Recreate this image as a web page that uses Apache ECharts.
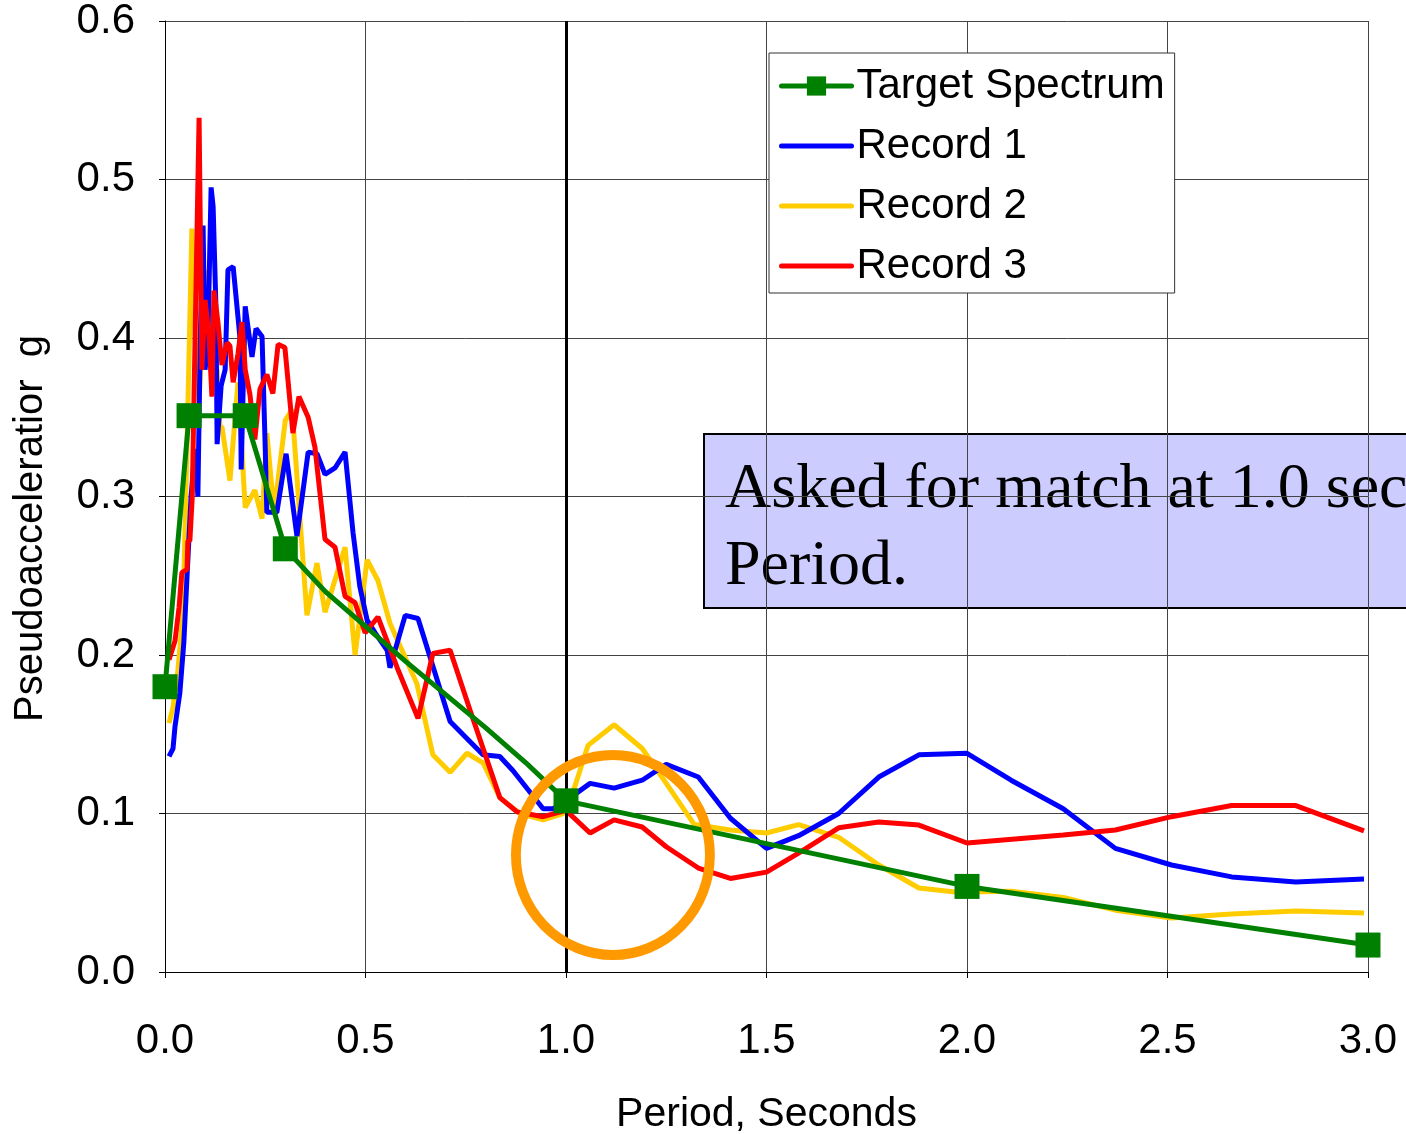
<!DOCTYPE html>
<html>
<head>
<meta charset="utf-8">
<script src="https://cdn.jsdelivr.net/npm/echarts@6/dist/echarts.min.js"></script>
<style>
  html, body { margin:0; padding:0; background:#fff; }
  #main { width:1406px; height:1134px; }
</style>
</head>
<body>
<div id="main"></div>
<script>
// period (s), pseudoacceleration (g)
var targetPeriod = [0, 0.06, 0.2, 0.3, 0.4, 0.5, 0.6, 0.7, 0.8, 0.9, 1.0, 2.0, 3.0];
var targetValue  = [0.18, 0.351, 0.351, 0.267, 0.24, 0.218, 0.196, 0.175, 0.154, 0.132, 0.108, 0.054, 0.017];
var targetMarked = [1, 1, 1, 1, 0, 0, 0, 0, 0, 0, 1, 1, 1];

var record1 = [
  [0.01,0.136],[0.02,0.141],[0.025,0.155],[0.037,0.176],[0.047,0.208],[0.055,0.25],[0.065,0.30],
  [0.075,0.33],[0.082,0.30],[0.088,0.40],[0.095,0.471],[0.1,0.38],[0.107,0.40],[0.115,0.495],
  [0.12,0.483],[0.127,0.42],[0.13,0.333],[0.14,0.37],[0.15,0.38],[0.157,0.443],[0.17,0.445],
  [0.187,0.40],[0.19,0.317],[0.2,0.42],[0.217,0.388],[0.227,0.406],[0.242,0.401],[0.25,0.33],
  [0.254,0.29],[0.279,0.29],[0.302,0.327],[0.329,0.275],[0.357,0.328],[0.379,0.327],[0.399,0.314],
  [0.424,0.318],[0.449,0.328],[0.469,0.277],[0.486,0.243],[0.504,0.222],[0.524,0.214],[0.554,0.203],
  [0.561,0.192],[0.599,0.225],[0.631,0.223],[0.711,0.158],[0.793,0.137],[0.835,0.136],[0.868,0.127],
  [0.943,0.103],[0.968,0.103],[1.0,0.108],[1.06,0.119],[1.12,0.116],[1.19,0.121],[1.25,0.131],
  [1.33,0.123],[1.41,0.097],[1.5,0.078],[1.58,0.086],[1.68,0.100],[1.78,0.123],[1.88,0.137],
  [2.0,0.138],[2.11,0.121],[2.24,0.103],[2.37,0.078],[2.51,0.0675],[2.66,0.060],[2.82,0.0568],[2.99,0.0587]
];

var record2 = [
  [0.01,0.157],[0.02,0.167],[0.032,0.19],[0.045,0.226],[0.055,0.334],[0.067,0.469],[0.075,0.40],
  [0.085,0.36],[0.1,0.443],[0.11,0.40],[0.12,0.37],[0.13,0.38],[0.137,0.344],[0.142,0.344],
  [0.162,0.31],[0.182,0.372],[0.2,0.293],[0.224,0.304],[0.242,0.286],[0.254,0.34],[0.272,0.29],
  [0.3,0.348],[0.317,0.355],[0.354,0.225],[0.379,0.258],[0.399,0.227],[0.449,0.268],[0.474,0.2],
  [0.504,0.26],[0.531,0.247],[0.561,0.22],[0.628,0.182],[0.668,0.137],[0.711,0.126],[0.753,0.138],
  [0.793,0.132],[0.835,0.110],[0.885,0.100],[0.943,0.096],[0.993,0.100],[1.022,0.117],[1.055,0.143],
  [1.12,0.156],[1.19,0.141],[1.25,0.119],[1.32,0.093],[1.41,0.0896],[1.5,0.0877],[1.58,0.093],
  [1.68,0.085],[1.78,0.0675],[1.88,0.053],[1.97,0.0505],[2.0,0.0505],[2.11,0.051],[2.24,0.047],
  [2.37,0.039],[2.51,0.034],[2.66,0.0366],[2.82,0.0385],[2.99,0.0372]
];

var record3 = [
  [0.01,0.197],[0.025,0.209],[0.035,0.23],[0.042,0.252],[0.055,0.254],[0.057,0.272],[0.062,0.272],
  [0.068,0.30],[0.075,0.40],[0.085,0.539],[0.092,0.38],[0.1,0.424],[0.11,0.40],[0.117,0.363],
  [0.122,0.43],[0.132,0.41],[0.142,0.383],[0.155,0.397],[0.162,0.395],[0.17,0.372],[0.182,0.39],
  [0.192,0.41],[0.2,0.38],[0.212,0.364],[0.224,0.336],[0.237,0.368],[0.254,0.377],[0.269,0.365],
  [0.282,0.396],[0.299,0.394],[0.319,0.34],[0.334,0.363],[0.357,0.35],[0.374,0.331],[0.399,0.273],
  [0.424,0.268],[0.449,0.237],[0.474,0.233],[0.499,0.214],[0.531,0.224],[0.579,0.192],[0.631,0.160],
  [0.668,0.201],[0.711,0.203],[0.761,0.165],[0.835,0.11],[0.878,0.101],[0.943,0.098],[1.0,0.102],
  [1.06,0.0877],[1.12,0.096],[1.19,0.0915],[1.25,0.079],[1.33,0.0656],[1.41,0.059],[1.5,0.063],
  [1.58,0.075],[1.68,0.091],[1.78,0.0946],[1.88,0.0927],[2.0,0.0814],[2.24,0.0864],[2.37,0.0896],
  [2.51,0.098],[2.66,0.105],[2.82,0.105],[2.99,0.089]
];

// highlighted area round the 1.0 s match
var circleCenter = [[1.117, 0.0738]];

var xTicks = [0, 0.5, 1.0, 1.5, 2.0, 2.5, 3.0];
var yTicks = [0, 0.1, 0.2, 0.3, 0.4, 0.5, 0.6];

var targetData = [];
for (var i = 0; i < targetPeriod.length; i++) {
  var p = { value: [targetPeriod[i], targetValue[i]] };
  if (!targetMarked[i]) p.symbol = 'none';
  targetData.push(p);
}

var font = 'Liberation Sans, Arial, sans-serif';
var noIcon = { opacity: 0 };
var chart = echarts.init(document.getElementById('main'));

chart.setOption({
  animation: false,
  backgroundColor: '#fff',
  grid: { left: 165, right: 38, top: 21, bottom: 162, outerBoundsMode: 'none', containLabel: false },
  legend: {
    data: [
      { name: 'Target Spectrum' },
      { name: 'Record 1', itemStyle: noIcon },
      { name: 'Record 2', itemStyle: noIcon },
      { name: 'Record 3', itemStyle: noIcon }
    ],
    orient: 'vertical',
    left: 769, top: 53,
    padding: [12, 10, 6, 10],
    itemWidth: 70, itemHeight: 24, itemGap: 18,
    lineStyle: { width: 5, cap: 'round' },
    backgroundColor: '#fff', borderColor: '#333', borderWidth: 1,
    textStyle: { fontFamily: font, fontSize: 42, color: '#000', lineHeight: 40 }
  },
  xAxis: {
    type: 'value', min: xTicks[0], max: xTicks[xTicks.length - 1], interval: 0.5,
    name: 'Period, Seconds', nameLocation: 'middle', nameGap: 122,
    nameTextStyle: { fontFamily: font, fontSize: 41, color: '#000' },
    axisLine: { lineStyle: { color: '#000', width: 1 } },
    axisTick: { show: true, length: 6, lineStyle: { color: '#000' } },
    axisLabel: { fontFamily: font, fontSize: 42, color: '#000', margin: 48,
      formatter: function (v) { return v.toFixed(1); } },
    splitLine: { show: true, lineStyle: { color: '#444', width: 1 } }
  },
  yAxis: {
    type: 'value', min: yTicks[0], max: yTicks[yTicks.length - 1], interval: 0.1,
    name: 'Pseudoacceleratior  g', nameLocation: 'middle', nameGap: 114,
    nameTextStyle: { fontFamily: font, fontSize: 40, color: '#000', padding: [0, 64, 0, 0] },
    axisLine: { show: true, lineStyle: { color: '#000', width: 1 } },
    axisTick: { show: true, length: 6, lineStyle: { color: '#000' } },
    axisLabel: { fontFamily: font, fontSize: 42, color: '#000', margin: 30,
      formatter: function (v) { return v.toFixed(1); } },
    splitLine: { show: true, lineStyle: { color: '#444', width: 1 } }
  },
  series: [
    {
      name: 'Record 1', type: 'line', data: record1, showSymbol: false, symbol: 'none',
      lineStyle: { color: '#0000FF', width: 5 }, itemStyle: { color: '#0000FF' }, z: 3
    },
    {
      name: 'Record 2', type: 'line', data: record2, showSymbol: false, symbol: 'none',
      lineStyle: { color: '#FFCC00', width: 5 }, itemStyle: { color: '#FFCC00' }, z: 2
    },
    {
      name: 'Record 3', type: 'line', data: record3, showSymbol: false, symbol: 'none',
      lineStyle: { color: '#FF0000', width: 5 }, itemStyle: { color: '#FF0000' }, z: 4
    },
    {
      name: 'Target Spectrum', type: 'line', data: targetData,
      symbol: 'rect', symbolSize: 25,
      lineStyle: { color: '#008000', width: 5 }, itemStyle: { color: '#008000' }, z: 5,
      markLine: {
        silent: true, symbol: ['none', 'none'], label: { show: false },
        lineStyle: { color: '#000', width: 3, type: 'solid' },
        data: [{ xAxis: 1.0 }]
      }
    },
    {
      name: 'circle', type: 'scatter', data: circleCenter, symbol: 'circle', symbolSize: [194, 200],
      itemStyle: { color: 'rgba(0,0,0,0)', borderColor: '#FF9900', borderWidth: 10, opacity: 1 },
      z: 6, silent: true
    }
  ],
  graphic: [
    {
      type: 'group', left: 703, top: 433, z: 100,
      children: [
        { type: 'rect', shape: { x: 0, y: 0, width: 760, height: 174 },
          style: { fill: '#CCCCFF', stroke: '#000', lineWidth: 2 } },
        { type: 'text', x: 21, y: 18,
          style: { text: 'Asked for match at 1.0 sec\nPeriod.', fill: '#000',
            font: '64px "Liberation Serif", "Times New Roman", serif', lineHeight: 77 } }
      ]
    }
  ]
});
</script>
</body>
</html>
